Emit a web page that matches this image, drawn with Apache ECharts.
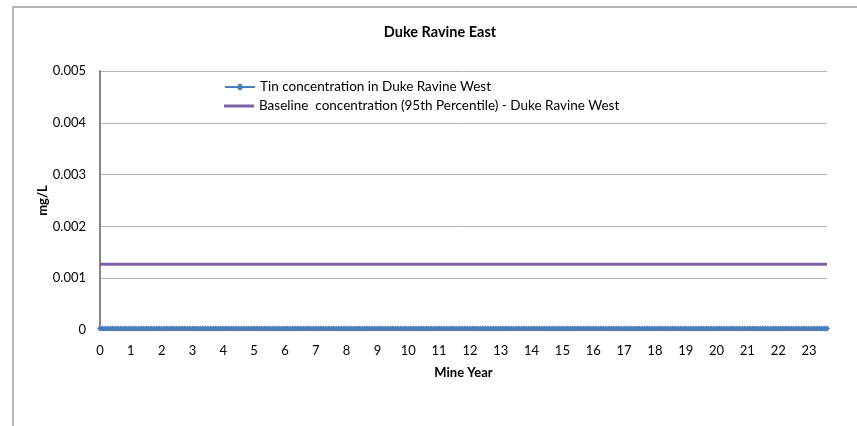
<!DOCTYPE html>
<html>
<head>
<meta charset="utf-8">
<script src="https://cdn.jsdelivr.net/npm/echarts@6/dist/echarts.min.js"></script>
<style>
  html, body { margin: 0; padding: 0; background: #fff; }
  #chart { width: 857px; height: 426px; }
</style>
</head>
<body>
<div id="chart"></div>
<script>
// ---- Data ----
const chartTitle = 'Duke Ravine East';
const yAxisTitle = 'mg/L';
const xAxisTitle = 'Mine Year';
const seriesNames = [
  'Tin concentration in Duke Ravine West',
  'Baseline  concentration (95th Percentile) - Duke Ravine West'
];
// Year tick labels on the x axis (one every 12 monthly categories)
const yearTickLabels = ['0','1','2','3','4','5','6','7','8','9','10','11','12','13','14','15','16','17','18','19','20','21','22','23'];
const yTickValues = [0, 0.001, 0.002, 0.003, 0.004, 0.005];
// Monthly tin concentration (mg/L), one row per mine year (last row partial)
const tinConcentration = [
  0.00003,0.00003,0.00003,0.00003,0.00003,0.00003,0.00003,0.00003,0.00003,0.00003,0.00003,0.00003,
  0.00003,0.00003,0.00003,0.00003,0.00003,0.00003,0.00003,0.00003,0.00003,0.00003,0.00003,0.00003,
  0.00003,0.00003,0.00003,0.00003,0.00003,0.00003,0.00003,0.00003,0.00003,0.00003,0.00003,0.00003,
  0.00003,0.00003,0.00003,0.00003,0.00003,0.00003,0.00003,0.00003,0.00003,0.00003,0.00003,0.00003,
  0.00003,0.00003,0.00003,0.00003,0.00003,0.00003,0.00003,0.00003,0.00003,0.00003,0.00003,0.00003,
  0.00003,0.00003,0.00003,0.00003,0.00003,0.00003,0.00003,0.00003,0.00003,0.00003,0.00003,0.00003,
  0.00003,0.00003,0.00003,0.00003,0.00003,0.00003,0.00003,0.00003,0.00003,0.00003,0.00003,0.00003,
  0.00003,0.00003,0.00003,0.00003,0.00003,0.00003,0.00003,0.00003,0.00003,0.00003,0.00003,0.00003,
  0.00003,0.00003,0.00003,0.00003,0.00003,0.00003,0.00003,0.00003,0.00003,0.00003,0.00003,0.00003,
  0.00003,0.00003,0.00003,0.00003,0.00003,0.00003,0.00003,0.00003,0.00003,0.00003,0.00003,0.00003,
  0.00003,0.00003,0.00003,0.00003,0.00003,0.00003,0.00003,0.00003,0.00003,0.00003,0.00003,0.00003,
  0.00003,0.00003,0.00003,0.00003,0.00003,0.00003,0.00003,0.00003,0.00003,0.00003,0.00003,0.00003,
  0.00003,0.00003,0.00003,0.00003,0.00003,0.00003,0.00003,0.00003,0.00003,0.00003,0.00003,0.00003,
  0.00003,0.00003,0.00003,0.00003,0.00003,0.00003,0.00003,0.00003,0.00003,0.00003,0.00003,0.00003,
  0.00003,0.00003,0.00003,0.00003,0.00003,0.00003,0.00003,0.00003,0.00003,0.00003,0.00003,0.00003,
  0.00003,0.00003,0.00003,0.00003,0.00003,0.00003,0.00003,0.00003,0.00003,0.00003,0.00003,0.00003,
  0.00003,0.00003,0.00003,0.00003,0.00003,0.00003,0.00003,0.00003,0.00003,0.00003,0.00003,0.00003,
  0.00003,0.00003,0.00003,0.00003,0.00003,0.00003,0.00003,0.00003,0.00003,0.00003,0.00003,0.00003,
  0.00003,0.00003,0.00003,0.00003,0.00003,0.00003,0.00003,0.00003,0.00003,0.00003,0.00003,0.00003,
  0.00003,0.00003,0.00003,0.00003,0.00003,0.00003,0.00003,0.00003,0.00003,0.00003,0.00003,0.00003,
  0.00003,0.00003,0.00003,0.00003,0.00003,0.00003,0.00003,0.00003,0.00003,0.00003,0.00003,0.00003,
  0.00003,0.00003,0.00003,0.00003,0.00003,0.00003,0.00003,0.00003,0.00003,0.00003,0.00003,0.00003,
  0.00003,0.00003,0.00003,0.00003,0.00003,0.00003,0.00003,0.00003,0.00003,0.00003,0.00003,0.00003,
  0.00003,0.00003,0.00003,0.00003,0.00003,0.00003,0.00003,0.00003
];
// Baseline (95th percentile) concentration, constant over the whole period
const baselineConcentration = [0.00127, 0.00127];

// ---- Build chart ----
const monthCategories = tinConcentration.map((_, i) => String(i));
const lastMonth = monthCategories.length - 1;

const FONT = 'Lato, "Open Sans", sans-serif';
const legendText = { fontFamily: FONT, fontSize: 13.5, color: '#000' };
const chart = echarts.init(document.getElementById('chart'), null, { renderer: 'canvas' });

chart.setOption({
  animation: false,
  backgroundColor: '#ffffff',
  textStyle: { fontFamily: FONT },
  title: {
    text: chartTitle,
    left: 435,
    top: 20,
    textAlign: 'center',
    textStyle: { fontFamily: FONT, fontSize: 14.5, fontWeight: 'bold', color: '#000' }
  },
  graphic: [{
    type: 'polyline',
    shape: { points: [[13, 426], [13, 7], [857, 7]] },
    style: { stroke: '#b4b4b4', lineWidth: 2, fill: null },
    silent: true
  }],
  legend: [
    {
      orient: 'vertical',
      left: 224,
      top: 80,
      itemWidth: 30,
      itemHeight: 10,
      padding: 0,
      textStyle: legendText,
      data: [seriesNames[0]]
    },
    {
      orient: 'vertical',
      left: 224,
      top: 99,
      itemWidth: 30,
      itemHeight: 3,
      padding: 0,
      textStyle: legendText,
      data: [{ name: seriesNames[1], icon: 'rect' }]
    }
  ],
  grid: { left: 100, right: 30, top: 71, bottom: 96, containLabel: false },
  xAxis: {
    type: 'category',
    data: monthCategories,
    boundaryGap: false,
    name: xAxisTitle,
    nameLocation: 'middle',
    nameGap: 36,
    nameTextStyle: { fontFamily: FONT, fontSize: 13, fontWeight: 'bold', color: '#000' },
    axisLine: { show: true, lineStyle: { color: '#868686', width: 2 } },
    axisTick: { show: false },
    axisLabel: {
      interval: (idx) => idx % 12 === 0,
      formatter: (val, idx) => yearTickLabels[idx / 12],
      margin: 14,
      fontFamily: FONT, fontSize: 13, color: '#000'
    },
    splitLine: { show: false }
  },
  yAxis: {
    type: 'value',
    min: yTickValues[0],
    max: yTickValues[yTickValues.length - 1],
    interval: 0.001,
    name: yAxisTitle,
    nameLocation: 'middle',
    nameRotate: 90,
    nameGap: 51,
    nameMoveOverlap: false,
    nameTextStyle: { fontFamily: FONT, fontSize: 13, fontWeight: 'bold', color: '#000' },
    axisLine: { show: true, lineStyle: { color: '#868686', width: 2 } },
    axisTick: { show: false },
    axisLabel: {
      margin: 14,
      formatter: (v) => (v === 0 ? '0' : v.toFixed(3)),
      fontFamily: FONT, fontSize: 13, color: '#000'
    },
    splitLine: { show: true, lineStyle: { color: '#b3b3b3', width: 1 } }
  },
  series: [
    {
      name: seriesNames[0],
      type: 'line',
      data: tinConcentration,
      symbol: 'diamond',
      symbolSize: 6,
      showSymbol: true,
      showAllSymbol: true,
      itemStyle: { color: '#4A7EBB' },
      lineStyle: { color: '#4A7EBB', width: 1.5 },
      z: 3
    },
    {
      name: seriesNames[1],
      type: 'line',
      data: [[0, baselineConcentration[0]], [lastMonth, baselineConcentration[1]]],
      symbol: 'none',
      itemStyle: { color: '#7D60A0' },
      lineStyle: { color: '#7D60A0', width: 3 },
      z: 2
    }
  ]
});
</script>
</body>
</html>
